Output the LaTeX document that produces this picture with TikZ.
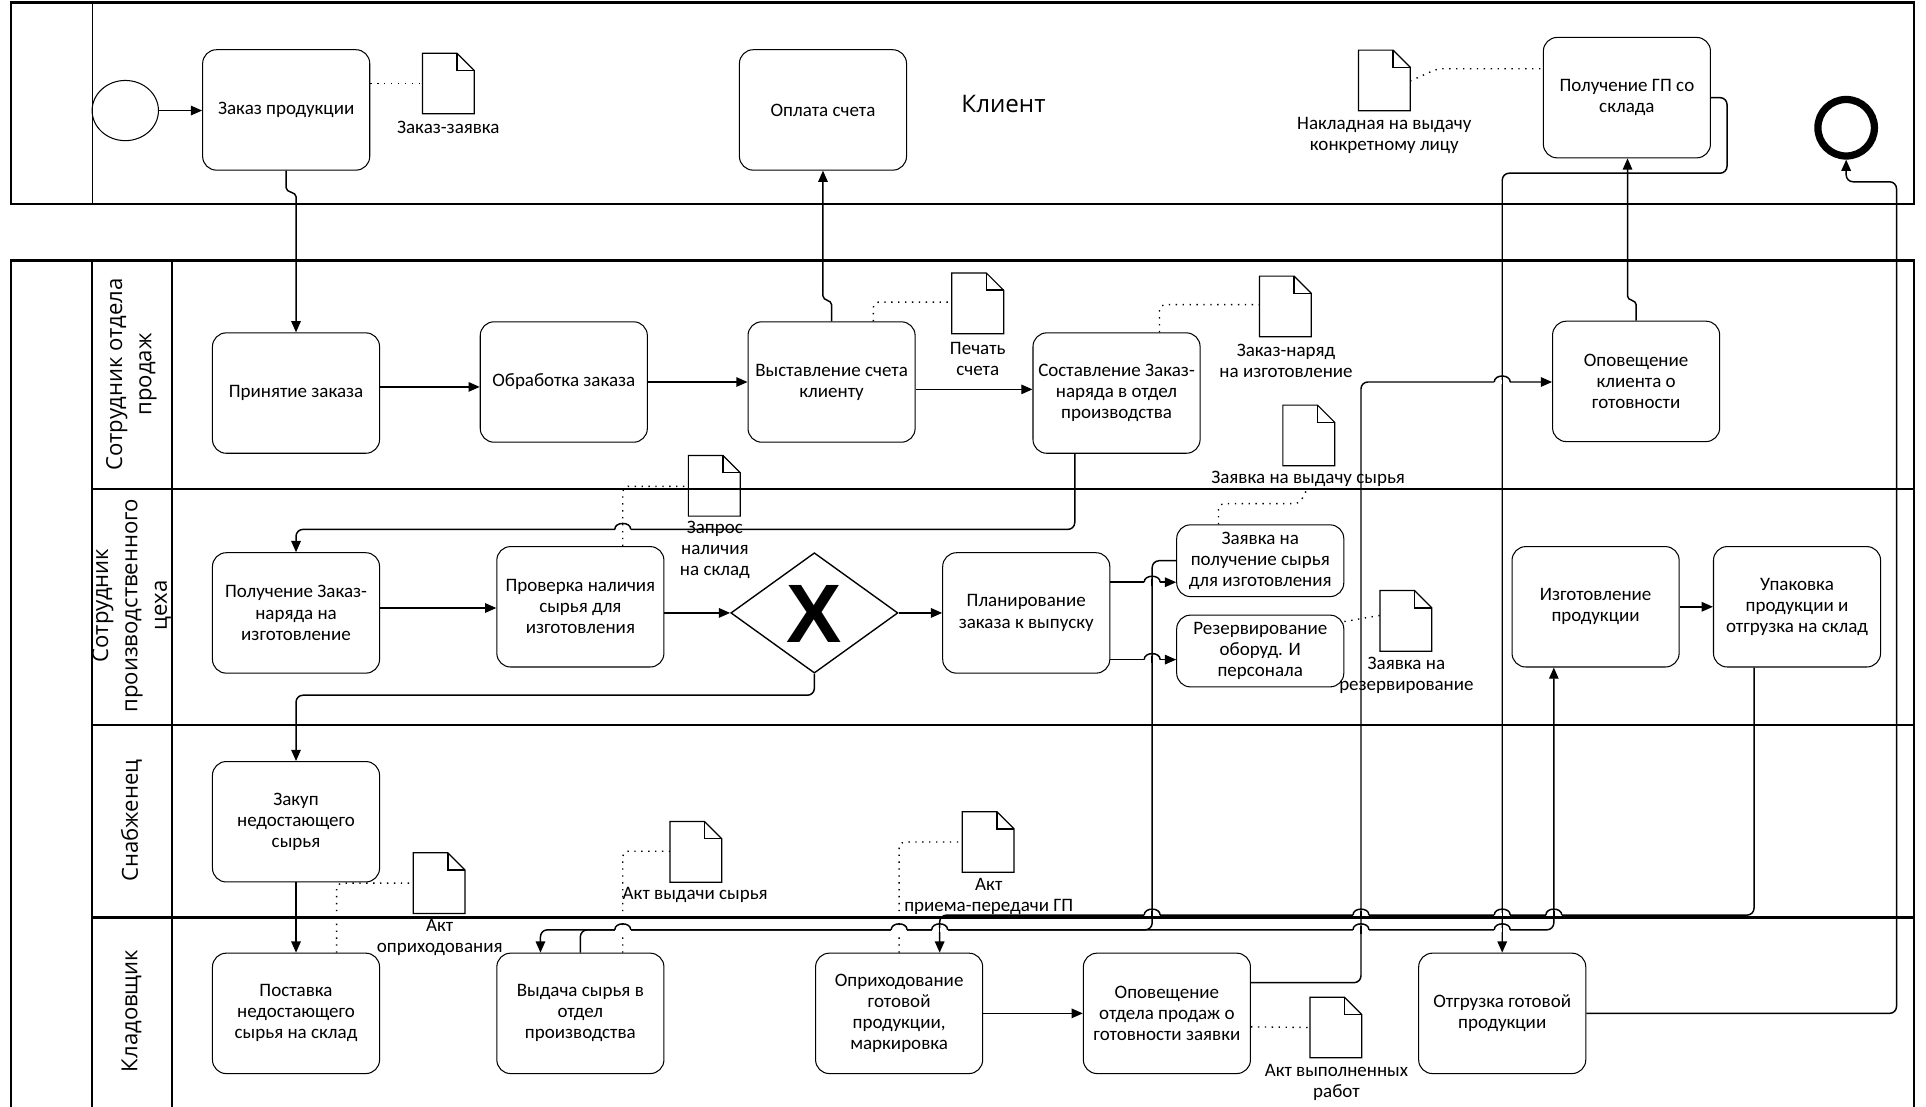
\documentclass[tikz,border=0pt]{standalone}
\usepackage{fontspec}
\setmainfont{Carlito}
\newfontfamily\lanefont{Open Sans}
\newfontfamily\xfont{Liberation Sans}
\usetikzlibrary{arrows.meta,shapes.geometric,calc}
\begin{document}
\begin{tikzpicture}[x=0.025cm,y=-0.025cm,
  txt/.style={font=\fontsize{11}{12.2}\selectfont},
  task/.style={draw, line width=0.6pt, rounded corners=0.28cm, minimum width=3.4cm, minimum height=2.45cm, align=center, inner sep=1pt, txt},
  smalltask/.style={task, minimum height=1.46cm},
  doc/.style={minimum width=1.04cm, minimum height=1.22cm, inner sep=0},
  doclbl/.style={align=center, inner sep=0, txt},
  lanelbl/.style={rotate=90, align=center, font=\lanefont\fontsize{12.8}{17}\selectfont},
  flow/.style={line width=0.85pt, rounded corners=4pt, -{Triangle[length=6.5pt,width=5.5pt]}},
  hopl/.style={line width=0.85pt},
  assoc/.style={line width=0.8pt, dash pattern=on 0.8pt off 3.2pt, rounded corners=3pt},
  border/.style={line width=1.4pt},
  thinborder/.style={line width=0.7pt},
  docline/.style={line width=0.7pt, line join=miter}
]
\useasboundingbox (0,0) rectangle (1568,901);
\clip (0,0) rectangle (1568,901);

% ---------- Pool: client ----------
\node[ellipse, draw, line width=0.6pt, minimum width=1.35cm, minimum height=1.225cm, inner sep=0] (start) at (102,90) {};
\node[task] (tzakaz) at (233,89.5) {Заказ продукции};
\node[task] (oplata) at (670,89.5) {Оплата счета};
\node[task] (tpolgp) at (1324.5,79.5) {Получение ГП со\\склада};
\node[circle, draw, line width=4.2pt, minimum size=1.15cm, inner sep=0] (end) at (1503,104) {};
\node[font=\lanefont\fontsize{14}{17}\selectfont, inner sep=0] (klient) at (817,85) {Клиент};

\node[doc] (dzz) at (365,68) {};
\node[doclbl] (lzz) at (365,104) {Заказ-заявка};
\node[doc] (dnakl) at (1127,65.5) {};
\node[doclbl] (lnakl) at (1127,110) {Накладная на выдачу\\конкретному лицу};

% ---------- Lane labels ----------
\node[lanelbl] (lane1) at (107,305) {Сотрудник отдела\\продаж};
\node[lanelbl] (lane2) at (107,493) {Сотрудник\\производственного\\цеха};
\node[lanelbl] (lane3) at (107,668) {Снабженец};
\node[lanelbl] (lane4) at (107,823) {Кладовщик};

% ---------- Lane 1 ----------
\node[task] (tprin) at (241,320) {Принятие заказа};
\node[task] (tobr) at (459,311) {Обработка заказа};
\node[task] (tvyst) at (677,311) {Выставление счета\\клиенту};
\node[task] (tsost) at (909,320) {Составление Заказ-\\наряда в отдел\\производства};
\node[task] (topovkl) at (1332,310.5) {Оповещение\\клиента о\\готовности};
\node[doc] (dpech) at (796,247) {};
\node[doclbl] (lpech) at (796,292) {Печать\\счета};
\node[doc] (dzn) at (1046.5,249.5) {};
\node[doclbl] (lzn) at (1047,293.5) {Заказ-наряд\\на изготовление};

% ---------- Lane 2 ----------
\node[task] (tpoluch) at (241,499) {Получение Заказ-\\наряда на\\изготовление};
\node[task] (tprov) at (472.5,494) {Проверка наличия\\сырья для\\изготовления};
\node[diamond, draw, line width=0.8pt, minimum width=3.4cm, minimum height=2.45cm, inner sep=0] (gw) at (663,499) {};
\node[font=\xfont\bfseries\fontsize{48}{48}\selectfont, inner sep=0] (gwx) at (663,500) {X};
\node[task] (tplan) at (835.5,499) {Планирование\\заказа к выпуску};
\node[smalltask] (tzayv) at (1026,456.5) {Заявка на\\получение сырья\\для изготовления};
\node[smalltask] (trez) at (1026,530) {Резервирование\\оборуд. И\\персонала};
\node[task] (tizg) at (1299,494) {Изготовление\\продукции};
\node[task] (tupak) at (1463,494) {Упаковка\\продукции и\\отгрузка на склад};
\node[doc] (dzayvv) at (1065.5,354.5) {};
\node[doclbl] (lzayvv) at (1065,390) {Заявка на выдачу сырья};
\node[doc] (dzapros) at (581.5,395.5) {};
\node[doclbl] (lzapros) at (582,448) {Запрос\\наличия\\на склад};
\node[doc] (drez) at (1144.5,505.5) {};
\node[doclbl] (lrez) at (1145,550) {Заявка на\\резервирование};

% ---------- Lane 3 ----------
\node[task] (tzakup) at (241,669) {Закуп\\недостающего\\сырья};
\node[doc] (dakt) at (357.5,719) {};
\node[doclbl] (lakt) at (358,763) {Акт\\оприходования};
\node[doc] (dvyd) at (566.5,693.5) {};
\node[doclbl] (lvyd) at (566,729) {Акт выдачи сырья};
\node[doc] (dapp) at (804.5,685.5) {};
\node[doclbl] (lapp) at (805,730) {Акт\\приема-передачи ГП};

% ---------- Lane 4 ----------
\node[task] (tpost) at (241,825) {Поставка\\недостающего\\сырья на склад};
\node[task] (tvyd) at (472.5,825) {Выдача сырья в\\отдел\\производства};
\node[task] (toprih) at (732,825) {Оприходование\\готовой\\продукции,\\маркировка};
\node[task] (topovotd) at (950,825) {Оповещение\\отдела продаж о\\готовности заявки};
\node[task] (totgr) at (1223,825) {Отгрузка готовой\\продукции};
\node[doc] (davr) at (1087.5,836.5) {};
\node[doclbl] (lavr) at (1088,881) {Акт выполненных\\работ};

% ---------- document outlines ----------
\foreach \d in {dzz,dnakl,dpech,dzn,dzayvv,dzapros,drez,dakt,dvyd,dapp,davr}{
  \draw[docline] (\d.north west) -- ($(\d.north east)+(-14,0)$) -- ($(\d.north east)+(0,14)$) -- (\d.south east) -- (\d.south west) -- cycle;
  \draw[line width=0.9pt] ($(\d.north east)+(-14,0)$) -- ($(\d.north east)+(-14,14)$) -- ($(\d.north east)+(0,14)$);
}

% ---------- sequence flows ----------
\draw[flow] (start.east) -- (tzakaz.west |- start.east);
\draw[flow, sharp corners] (tzakaz.south) -- (233,153) .. controls (233,157) and (241,156) .. (241,160) -- (tprin.north);
\draw[flow] (tprin.east |- 0,315) -- (tobr.west |- 0,315);
\draw[flow] (tobr.east) -- (tvyst.west);
\draw[flow] (tvyst.east |- 0,317) -- (tsost.west |- 0,317);
\draw[flow, sharp corners] (tvyst.north) -- (677,248) .. controls (677,244) and (670,245) .. (670,241) -- (oplata.south);
\draw[flow] (tsost.south -| 875,0) -- (875,431) -- (241,431) -- (tpoluch.north);
\draw[flow] (tpoluch.east |- 0,495) -- (tprov.west |- 0,495);
\draw[flow] (tprov.east |- gw.west) -- (gw.west);
\draw[flow] (gw.east) -- (tplan.west);
\draw[flow] (gw.south) -- (663,566) -- (241,566) -- (tzakup.north);
\draw[flow] (tplan.east |- 0,474) -- (tzayv.west |- 0,474);
\draw[flow] (tplan.east |- 0,537) -- (trez.west |- 0,537);
\draw[flow] (tzayv.west) -- (938,456.5) -- (938,757) -- (440,757) -- (tvyd.north -| 440,0);
\draw[flow] (tvyd.north) -- (472.5,757) -- (1265,757) -- (tizg.south -| 1265,0);
\draw[flow] (tupak.south -| 1428,0) -- (1428,745) -- (765,745) -- (toprih.north -| 765,0);
\draw[flow] (tizg.east) -- (tupak.west);
\draw[flow] (tzakup.south) -- (tpost.north);
\draw[flow] (toprih.east) -- (topovotd.west);
\draw[flow] (topovotd.east |- 0,800) -- (1108,800) -- (1108,311) -- (topovkl.west |- 0,311);
\draw[flow, sharp corners] (topovkl.north) -- (1332,248) .. controls (1332,244) and (1325,245) .. (1325,241) -- (tpolgp.south -| 1325,0);
\draw[flow] (tpolgp.east) -- (1406,79.5) -- (1406,141) -- (1223,141) -- (totgr.north);
\draw[flow] (totgr.east) -- (1544,825) -- (1544,148) -- (1503,148) -- (end.south);

% ---------- associations ----------
\draw[assoc] (tzakaz.east |- 0,68) -- (dzz.west |- 0,68);
\draw[assoc] (tvyst.north -| 711,0) -- (711,246) -- (dpech.west |- 0,246);
\draw[assoc] (tsost.north -| 944,0) -- (944,248) -- (dzn.west |- 0,248);
\draw[assoc] (tprov.north -| 507,0) -- (507,396) -- (dzapros.west |- 0,396);
\draw[assoc] (tzayv.north -| 992,0) -- (992,410) -- (1058,410) -- (lzayvv.south);
\draw[assoc] (trez.east |- 0,506) -- (drez.west |- 0,501);
\draw[assoc] (tpost.north -| 274,0) -- (274,719) -- (dakt.west);
\draw[assoc] (tvyd.north -| 507,0) -- (507,693) -- (dvyd.west |- 0,693);
\draw[assoc] (toprih.north -| 732,0) -- (732,685.5) -- (dapp.west);
\draw[assoc] (topovotd.east |- 0,836) -- (davr.west);
\draw[assoc] (dnakl.east |- 0,66) -- (1170,56) -- (tpolgp.west |- 0,56);

% ---------- line jumps ----------
\foreach \xc/\yc/\vs in {507/431/0, 938/474/1, 938/537/1, 507/757/0, 732/757/0, 765/757/1, 1108/757/1, 1223/757/1, 938/745/1, 1108/745/1, 1223/745/1, 1265/745/1, 1223/311/1}{
  \fill[white] (\xc-6.5,\yc-1.6) rectangle (\xc+6.5,\yc+1.6);
  \draw[hopl] (\xc-6.5,\yc) .. controls (\xc-6.5,\yc-6.5) and (\xc+6.5,\yc-6.5) .. (\xc+6.5,\yc);
  \ifnum\vs=1 \draw[hopl] (\xc,\yc-3) -- (\xc,\yc+3); \fi
}

% ---------- pools and lanes ----------
\draw[border] (9,2) rectangle (1558,166);
\draw[thinborder] (75,2) -- (75,166);
\draw[border] (9,212) rectangle (1558,930);
\draw[border] (75,212) -- (75,930);
\draw[border] (140,212) -- (140,930);
\draw[border] (75,398) -- (1558,398);
\draw[border] (75,590) -- (1558,590);
\draw[border] (75,747) -- (1558,747);
\end{tikzpicture}
\end{document}
